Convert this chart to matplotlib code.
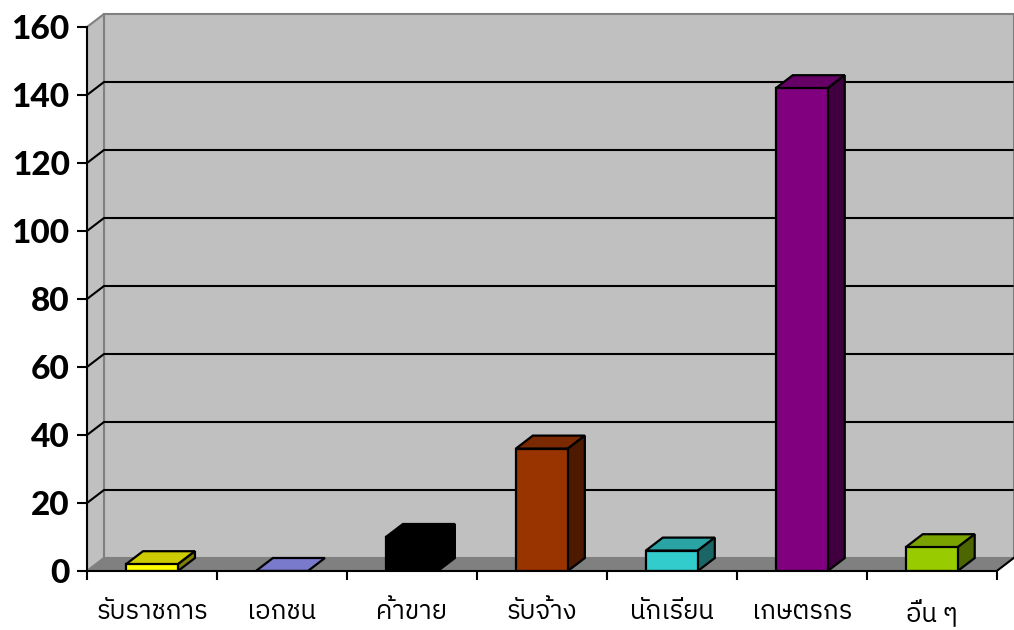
import numpy as np
import matplotlib
matplotlib.use('Agg')
import matplotlib.pyplot as plt
from matplotlib import font_manager
from matplotlib.ft2font import FT2Font
from matplotlib.colors import to_rgb
from matplotlib.patches import Polygon

categories = ['รับราชการ', 'เอกชน', 'ค้าขาย', 'รับจ้าง', 'นักเรียน', 'เกษตรกร', 'อื่น ๆ']
values = [2, 0, 10, 36, 6, 142, 7]
colors = ['#FFFF00', '#9999FF', '#000000', '#993300', '#33CCCC', '#800080', '#99CC00']
yticks = [0, 20, 40, 60, 80, 100, 120, 140, 160]


def thai_font():
    # look for any installed font that has Thai glyphs
    found = []
    for f in font_manager.fontManager.ttflist:
        try:
            if FT2Font(f.fname).get_char_index(ord('ก')):
                found.append(f.name)
        except Exception:
            pass
    found.sort(key=lambda n: (0 if 'Sans' in n else 1, 'Looped' in n))
    return found[0] if found else 'DejaVu Sans'


def shade(c, k):
    r, g, b = to_rgb(c)
    return (r*k, g*k, b*k)


thai = thai_font()

fig = plt.figure(figsize=(10.14, 6.3), dpi=100)
ax = fig.add_axes([87/1014, 59/630, 927/1014, 561/630])
pxx = 909.7/7
pxy = 3.4
ax.set_xlim(-0.5, -0.5 + 927/pxx)
ax.set_ylim(0, 561/pxy)
dx = 17/pxx
dy = 13/pxy
n = len(categories)
x0, x1 = -0.5, n - 0.5
top = yticks[-1]

# walls
ax.add_patch(Polygon([(x0+dx, dy), (x1+dx, dy), (x1+dx, top+dy), (x0+dx, top+dy)],
                     closed=True, fc='#C0C0C0', ec='#808080', lw=1.5, zorder=0))
ax.add_patch(Polygon([(x0, 0), (x0+dx, dy), (x0+dx, top+dy), (x0, top)],
                     closed=True, fc='#C0C0C0', ec='#808080', lw=1.5, zorder=0))
for v in yticks[1:-1]:
    ax.plot([x0, x0+dx, x1+dx], [v, v+dy, v+dy], color='black', lw=1.5, zorder=1,
            solid_capstyle='butt')

# floor
ax.add_patch(Polygon([(x0, 0), (x1, 0), (x1+dx, dy), (x0+dx, dy)],
                     closed=True, fc='#808080', ec='#808080', lw=1, zorder=2))
ax.plot([x1, x1+dx], [0, dy], color='black', lw=1.5, zorder=2)

# bars
w = 0.4
xs = np.arange(n)
ax.bar(xs, values, width=w, color=colors, edgecolor='black', lw=1.6, zorder=4)
for x, v, c in zip(xs, values, colors):
    ax.add_patch(Polygon([(x-w/2, v), (x+w/2, v), (x+w/2+dx, v+dy), (x-w/2+dx, v+dy)],
                         closed=True, fc=shade(c, 0.8), ec='black', lw=1.6, zorder=3))
    if v > 0:
        ax.add_patch(Polygon([(x+w/2, 0), (x+w/2+dx, dy), (x+w/2+dx, v+dy), (x+w/2, v)],
                             closed=True, fc=shade(c, 0.5), ec='black', lw=1.6, zorder=3))

# axes
for s in ['top', 'right']:
    ax.spines[s].set_visible(False)
ax.spines['left'].set_bounds(0, top)
ax.spines['bottom'].set_bounds(x0, x1)
ax.spines['left'].set_linewidth(1.5)
ax.spines['bottom'].set_linewidth(1.5)
ax.spines['left'].set_zorder(5)
ax.spines['bottom'].set_zorder(5)

ax.set_yticks(yticks)
ax.set_yticklabels([str(t) for t in yticks], fontfamily='Lato', fontweight='black', fontsize=24)
ax.tick_params(axis='y', direction='out', length=7, width=1.5, pad=5.5)

ax.set_xticks(xs)
ax.set_xticklabels(categories, fontfamily=[thai, 'DejaVu Sans'], fontsize=18.5)
ax.set_xticks(np.arange(n+1) - 0.5, minor=True)
ax.tick_params(axis='x', which='major', length=0, pad=20)
ax.tick_params(axis='x', which='minor', direction='out', length=6.5, width=1.5)

fig.savefig('out.png', dpi=100)
